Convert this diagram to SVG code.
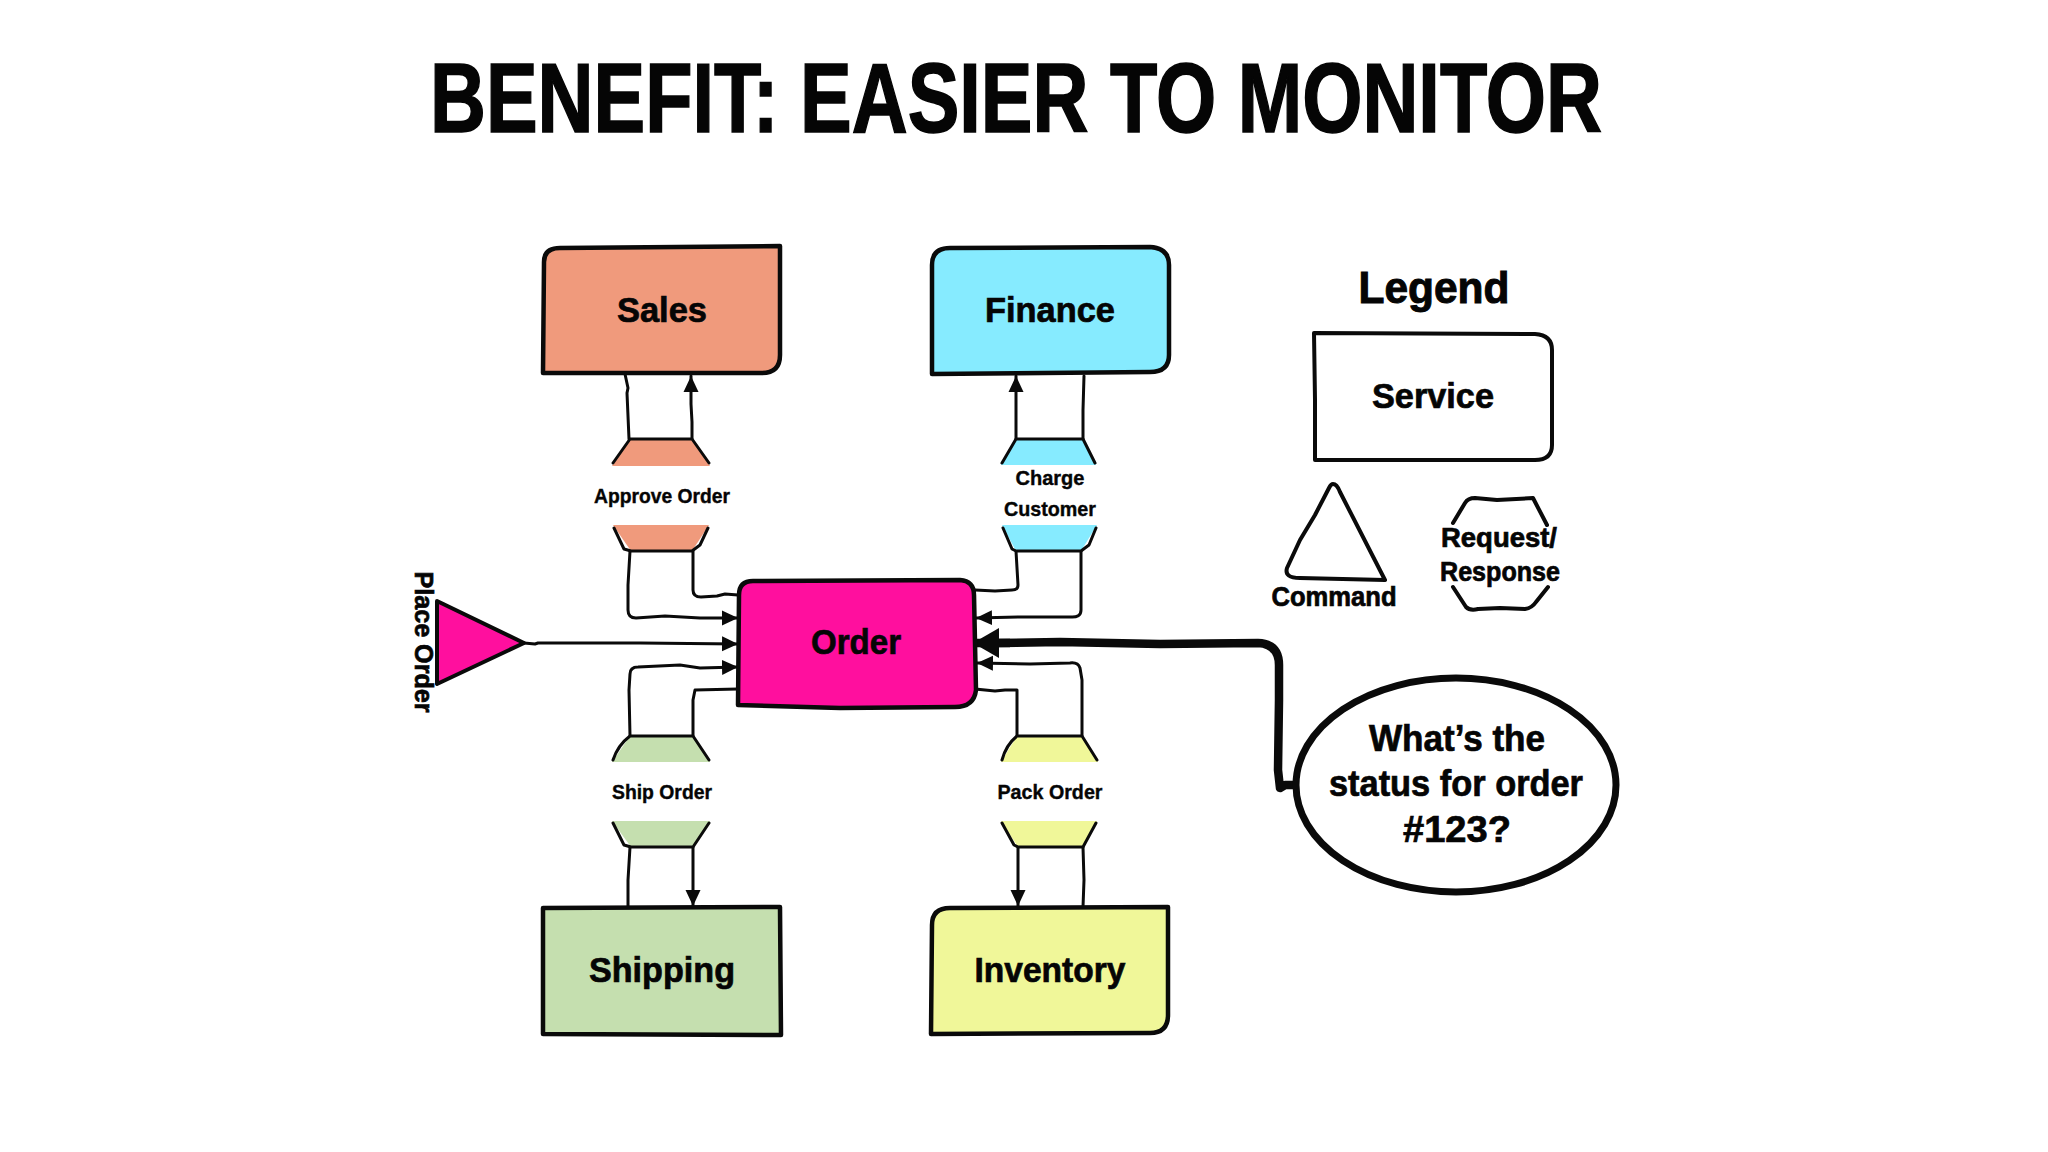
<svg xmlns="http://www.w3.org/2000/svg" width="2048" height="1152" viewBox="0 0 2048 1152">
<style>
text{font-family:"Liberation Sans",Arial,sans-serif;font-weight:700;fill:#050505;stroke:#050505;stroke-width:.7;text-anchor:middle}
.box{stroke:#0a0a0a;stroke-width:4.5;stroke-linejoin:round}
.edge{fill:none;stroke:#0a0a0a;stroke-width:3;stroke-linejoin:round;stroke-linecap:round}
.out{fill:none;stroke:#0a0a0a;stroke-width:4;stroke-linejoin:round;stroke-linecap:round}
.big{font-size:35px}.small{font-size:21px;stroke-width:.4}.mid{font-size:27px}
</style>
<defs>
<marker id="a" markerUnits="userSpaceOnUse" markerWidth="18" markerHeight="18" refX="16" refY="9" orient="auto"><path d="M0 1.500L16 9L0 16.500Z" fill="#0a0a0a"/></marker>
<marker id="T" markerUnits="userSpaceOnUse" markerWidth="30" markerHeight="34" refX="26" refY="17" orient="auto"><path d="M0 2L26 17L0 32Z" fill="#0a0a0a"/></marker>
</defs>
<rect width="2048" height="1152" fill="#fff"/>
<text x="1016" y="132" font-size="99" textLength="1172" lengthAdjust="spacingAndGlyphs" style="stroke-width:1.6">BENEFIT: EASIER TO MONITOR</text>

<g id="connectors">
<path class="edge" d="M625 374L628 388L627 393L629 439"/>
<path class="edge" marker-end="url(#a)" d="M692 439L692 422L691 404L691 376"/>
<path class="edge" marker-end="url(#a)" d="M1016 439L1016 376"/>
<path class="edge" d="M1084 376L1083 410L1083 439"/>
<path class="edge" marker-end="url(#a)" d="M630 551L628 585L628 610Q628 618 636 618L665 616L700 618L738 618"/>
<path class="edge" d="M693 551L693 590Q693 597 701 597L717 596L725 594L738 595"/>
<path class="edge" d="M1016 551L1018 585Q1018 590 1012 590L995 591L975 590"/>
<path class="edge" marker-end="url(#a)" d="M1081 551L1081 610Q1081 618 1070 617L1020 617L976 618"/>
<path class="edge" marker-end="url(#a)" d="M524 643L535 644L538 643L640 643L738 644"/>
<path class="edge" marker-end="url(#a)" d="M630 736L629 690L630 674Q630 667 638 667L680 665L700 668L738 667"/>
<path class="edge" d="M693 736L693 700L695 690L738 689"/>
<path class="edge" d="M1017 736L1017 690L1005 690L995 691L975 689"/>
<path class="edge" marker-end="url(#a)" d="M1082 736L1082 680L1080 668Q1078 662 1070 663L1030 664L977 663"/>
<path class="edge" d="M630 847L628 880L628 907"/>
<path class="edge" marker-end="url(#a)" d="M693 847L693 880L693 906"/>
<path class="edge" marker-end="url(#a)" d="M1018 847L1018 880L1018 906"/>
<path class="edge" d="M1083 847L1084 880L1083 907"/>
<path fill="none" stroke="#0a0a0a" stroke-width="8.500" stroke-linejoin="round" stroke-linecap="round" d="M1296 785L1285 785L1280 788L1278 770L1279 700L1279 665Q1279 644 1258 643L1160 644L1060 642L995 643"/>
<path marker-end="url(#T)" fill="none" stroke="#0a0a0a" stroke-width="8.500" d="M1010 643L973 643"/>
</g>

<g id="sales"><path class="box" fill="#F09A7C" d="M543 373L544 262Q544 248 560 248L780 246L780 355Q780 373 762 373Z"/><text class="big" x="662" y="322" textLength="90" lengthAdjust="spacingAndGlyphs">Sales</text></g>
<g id="finance"><path class="box" fill="#86EBFF" d="M932 374L932 265Q932 248 950 248L1150 247Q1169 248 1169 265L1169 355Q1169 372 1150 372Z"/><text class="big" x="1050" y="322" textLength="130" lengthAdjust="spacingAndGlyphs">Finance</text></g>
<g id="order"><path class="box" fill="#FF0F9E" d="M738 705L739 595Q739 581 753 581L960 580Q974 581 974 595L976 690Q974 707 955 707L840 708Z"/><text class="big" x="856" y="654" textLength="90" lengthAdjust="spacingAndGlyphs">Order</text></g>
<g id="shipping"><path class="box" fill="#C5DFAF" d="M543 908L780 907L781 1035L543 1034Z"/><text class="big" x="662" y="982" textLength="146" lengthAdjust="spacingAndGlyphs">Shipping</text></g>
<g id="inventory"><path class="box" fill="#F0F799" d="M932 925Q932 908 950 908L1168 907L1168 1015Q1168 1033 1150 1033L931 1034Z"/><text class="big" x="1050" y="982" textLength="151" lengthAdjust="spacingAndGlyphs">Inventory</text></g>

<g id="approve-order">
<path fill="#F09A7C" d="M612 466L630 439L692 439L710 466Z"/><path fill="#F09A7C" d="M613 525L709 525L692 551L631 551Z"/>
<path class="edge" d="M613 463L630 439L692 439L709 463M614 528L624 549L631 551L692 551L700 545L708 528"/>
<text class="small" x="662" y="503" textLength="136" lengthAdjust="spacingAndGlyphs">Approve Order</text></g>
<g id="charge-customer">
<path fill="#86EBFF" d="M1001 465L1016 439L1083 439L1096 465Z"/><path fill="#86EBFF" d="M1002 525L1097 525L1081 551L1016 551Z"/>
<path class="edge" d="M1002 463L1016 439L1083 439L1095 463M1003 528L1012 549L1016 551L1081 551L1089 545L1096 528"/>
<text class="small" x="1050" y="485" textLength="69" lengthAdjust="spacingAndGlyphs">Charge</text>
<text class="small" x="1050" y="516" textLength="92" lengthAdjust="spacingAndGlyphs">Customer</text></g>
<g id="ship-order">
<path fill="#C5DFAF" d="M612 762L630 736L693 736L710 762Z"/><path fill="#C5DFAF" d="M612 821L710 821L693 847L631 847Z"/>
<path class="edge" d="M613 760Q618 745 630 736L693 736L709 760M613 823L624 845L631 847L693 847L709 823"/>
<text class="small" x="662" y="799" textLength="100" lengthAdjust="spacingAndGlyphs">Ship Order</text></g>
<g id="pack-order">
<path fill="#F0F799" d="M1001 762L1017 736L1082 736L1098 762Z"/><path fill="#F0F799" d="M1001 821L1097 821L1083 847L1018 847Z"/>
<path class="edge" d="M1002 760Q1006 745 1017 736L1082 736L1097 760M1002 823L1014 845L1018 847L1083 847L1096 823"/>
<text class="small" x="1050" y="799" textLength="105" lengthAdjust="spacingAndGlyphs">Pack Order</text></g>

<g id="place-order">
<path fill="#FF0F9E" stroke="#0a0a0a" stroke-width="4" stroke-linejoin="round" d="M437 601L524 643L437 684Z"/>
<text transform="translate(415 642) rotate(90)" font-size="25" textLength="141" lengthAdjust="spacingAndGlyphs">Place Order</text></g>

<g id="question">
<ellipse cx="1456" cy="785" rx="160" ry="107" fill="#fff" stroke="#0a0a0a" stroke-width="7"/>
<text font-size="36" x="1457" y="751" textLength="176" lengthAdjust="spacingAndGlyphs">What’s the</text>
<text font-size="36" x="1456" y="796" textLength="254" lengthAdjust="spacingAndGlyphs">status for order</text>
<text font-size="36" x="1457" y="842" textLength="108" lengthAdjust="spacingAndGlyphs">#123?</text></g>

<g id="legend">
<text font-size="44" x="1434" y="303" textLength="151" lengthAdjust="spacingAndGlyphs" style="stroke-width:1">Legend</text>
<g id="legend-service"><path class="out" fill="none" d="M1314 333L1535 334Q1552 335 1552 350L1552 445Q1552 460 1535 460L1315 460L1315 400Z"/><text class="big" x="1433" y="408" textLength="122" lengthAdjust="spacingAndGlyphs">Service</text></g>
<g id="legend-command"><path class="out" d="M1333 484Q1337 484 1340 492L1385 580L1300 578Q1284 578 1287 568L1300 540L1315 515L1329 488Q1331 484 1333 484Z"/><text class="mid" x="1334" y="606" textLength="125" lengthAdjust="spacingAndGlyphs">Command</text></g>
<g id="legend-request"><path class="out" d="M1453 523L1465 503Q1468 498 1475 498L1497 500L1533 498L1547 525M1453 587L1466 607Q1470 611 1478 609L1500 608L1525 609Q1532 608 1536 602L1548 587"/>
<text class="mid" x="1499" y="547" textLength="116" lengthAdjust="spacingAndGlyphs">Request/</text>
<text class="mid" x="1500" y="581" textLength="120" lengthAdjust="spacingAndGlyphs">Response</text></g>
</g>
</svg>
